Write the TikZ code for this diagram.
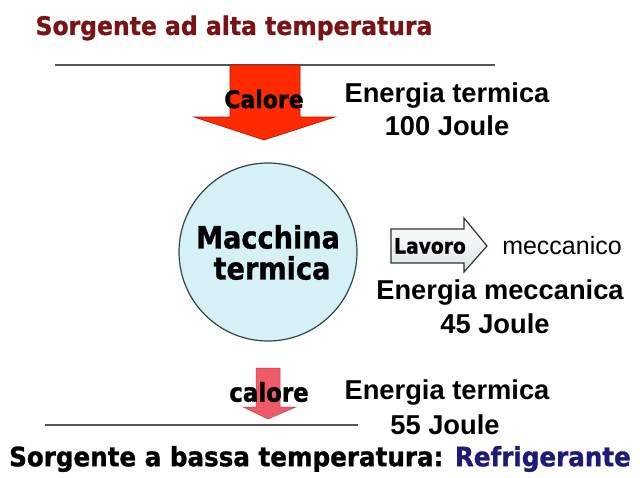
\documentclass[tikz,border=0pt]{standalone}
\usepackage{fontspec}
\setmainfont{DejaVu Sans}[BoldFeatures={FakeBold=1.2}]
\newfontfamily\arialf{Liberation Sans}
\definecolor{titlered}{HTML}{7A1414}
\definecolor{hotred}{HTML}{FF2A00}
\definecolor{hotedge}{HTML}{B81000}
\definecolor{pinkred}{HTML}{EE5A68}
\definecolor{pinkedge}{HTML}{C8404C}
\definecolor{circfill}{HTML}{D6F1F5}
\definecolor{circedge}{HTML}{2E4448}
\definecolor{navy}{HTML}{1C1C78}
\definecolor{linegray}{HTML}{555555}
\definecolor{arrfill}{HTML}{DCE6E8}
\tikzset{
  verdb/.style={font=\bfseries\fontsize{#1}{#1}\selectfont, inner sep=0pt},
  arialb/.style={font=\arialf\bfseries\fontsize{#1}{#1}\selectfont, inner sep=0pt},
  arialr/.style={font=\arialf\fontsize{#1}{#1}\selectfont, inner sep=0pt},
  srcline/.style={draw=linegray, line width=2pt},
}
\begin{document}
\begin{tikzpicture}[x=1pt,y=-1pt]
\useasboundingbox (0,0) rectangle (640,477);
% top source
\node[verdb=23.5, text=titlered] (hot) at (234,28) {\scalebox{1.0}[1.08]{Sorgente ad alta temperatura}};
\coordinate (tl1) at (55,65);
\coordinate (tl2) at (495,65);
\draw[srcline] (tl1) -- (tl2);
% big red arrow
\draw[fill=hotred, draw=hotedge, line width=0.6pt]
  (230,65) -- (300,65) -- (300,117) -- (335,117) -- (264,140) -- (194,117) -- (230,117) -- cycle;
\node[verdb=22] (calore) at (264,99) {\scalebox{1.0}[1.1]{Calore}};
\node[arialb=27.3] (et1) at (447,95) {Energia termica};
\node[arialb=27.3] (j1) at (447,126) {100 Joule};
% machine
\node[circle, draw=circedge, line width=1.2pt, fill=circfill, minimum size=178pt, inner sep=0pt] (mach) at (268,252) {};
\node[verdb=28] (m1) at (268,237) {\scalebox{0.97}[1.1]{Macchina}};
\node[verdb=28] (m2) at (272,268) {\scalebox{0.97}[1.1]{termica}};
% work arrow
\draw[draw=black!80, line width=1.2pt, top color=white, bottom color=arrfill]
  (391,229) -- (464,229) -- (464,218) -- (487,246) -- (464,272) -- (464,263) -- (391,263) -- cycle;
\node[verdb=19.3] (lav) at (430,246) {\scalebox{0.97}[1.1]{Lavoro}};
\node[arialr=25] (mecc) at (562,246) {meccanico};
\node[arialb=27.3] (em) at (500,292) {Energia meccanica};
\node[arialb=27.3] (j2) at (495,324) {45 Joule};
% small pink arrow
\draw[fill=pinkred, draw=pinkedge, line width=0.5pt]
  (256,368) -- (280,368) -- (280,407) -- (296,407) -- (268,419) -- (243,407) -- (256,407) -- cycle;
\node[verdb=23.6] (calore2) at (269,392) {\scalebox{0.97}[1.1]{calore}};
\node[arialb=27.3] (et2) at (447,392) {Energia termica};
\node[arialb=27.3] (j3) at (445,425) {55 Joule};
\coordinate (bl1) at (45,425);
\coordinate (bl2) at (358,425);
\draw[srcline] (bl1) -- (bl2);
\node[verdb=24.6] (cold) at (320,459) {\scalebox{1.0}[1.08]{Sorgente a bassa temperatura: \textcolor{navy}{Refrigerante}}};
\end{tikzpicture}
\end{document}
